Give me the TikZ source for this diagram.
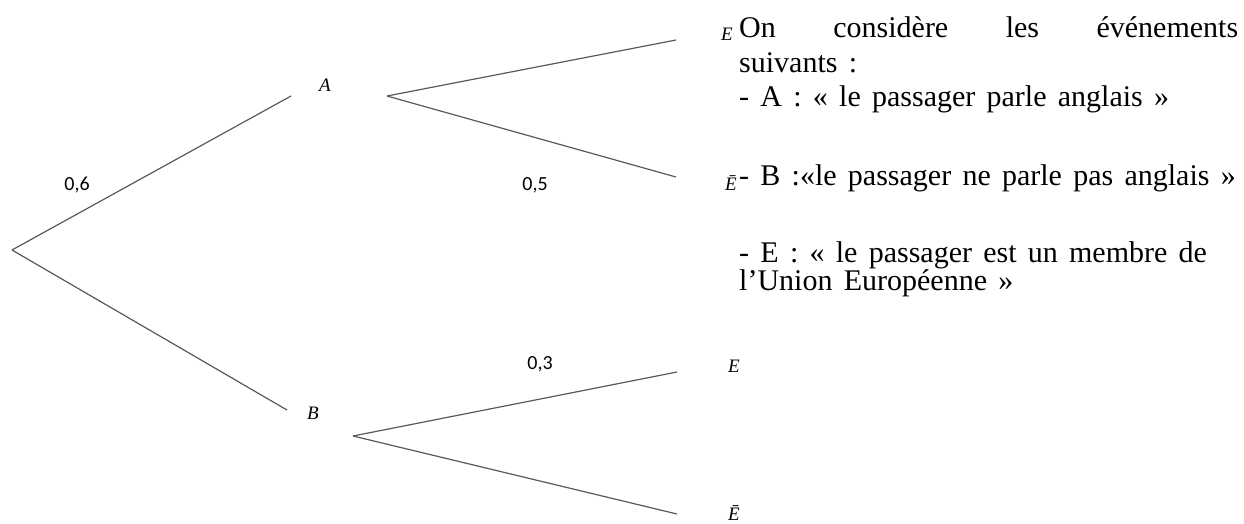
\documentclass[tikz,border=0pt]{standalone}
\usepackage{fontspec}
\setmainfont{Liberation Serif}
\newfontfamily\probfont{Carlito}
\newfontfamily\txtfont[WordSpace=1.5]{Liberation Serif}
\begin{document}
\begin{tikzpicture}[x=1pt,y=-1pt,
  branch/.style={draw=black!65,line width=1.2pt},
  evt/.style={font=\fontsize{19}{19}\selectfont\itshape,inner sep=0pt},
  prob/.style={font=\probfont\fontsize{20}{20}\selectfont,inner sep=0pt},
  txt/.style={font=\txtfont\fontsize{30}{30}\selectfont,inner sep=0pt,anchor=base west}]
\useasboundingbox (0,0) rectangle (1244,523);
% tree points
\coordinate (root) at (12,250);
\coordinate (toA) at (291,96);
\coordinate (toB) at (287,410);
\coordinate (Aout) at (387,96);
\coordinate (AE) at (676,40);
\coordinate (AEb) at (676,177);
\coordinate (Bout) at (353,436);
\coordinate (BE) at (677,372);
\coordinate (BEb) at (677,514);
% branches
\draw[branch] (root) -- (toA);
\draw[branch] (root) -- (toB);
\draw[branch] (Aout) -- (AE);
\draw[branch] (Aout) -- (AEb);
\draw[branch] (Bout) -- (BE);
\draw[branch] (Bout) -- (BEb);
% event labels
\node[evt] (A) at (325,85) {A};
\node[evt] (B) at (313,413) {B};
\node[evt,anchor=base west] (E1) at (721,40) {E};
\node[evt,anchor=base west] (E1b) at (725,190) {Ē};
\node[evt] (E2) at (734,366) {E};
\node[evt] (E2b) at (734,513) {Ē};
% probabilities
\node[prob] (p06) at (77,185) {0,6};
\node[prob] (p05) at (535,185) {0,5};
\node[prob] (p03) at (540,364) {0,3};
% text
\node[txt] (t1) at (739,37) {\makebox[499pt][s]{On\hfill considère\hfill les\hfill événements}};
\node[txt] (t2) at (739,72) {suivants :};
\node[txt] (t3) at (739,106) {- A : « le passager parle anglais »};
\node[txt] (t4) at (739,185) {- B :«le passager ne parle pas anglais »};
\node[txt] (t5) at (739,262) {- E : « le passager est un membre de};
\node[txt] (t6) at (739,290) {l’Union Européenne »};
\end{tikzpicture}
\end{document}
